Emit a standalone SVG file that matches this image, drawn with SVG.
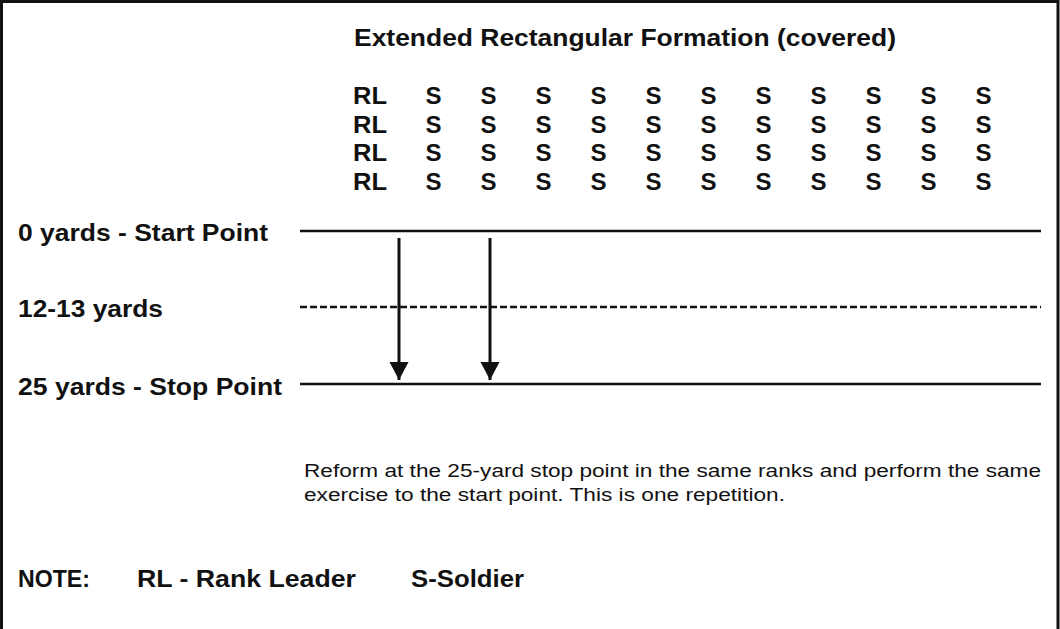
<svg xmlns="http://www.w3.org/2000/svg" width="1060" height="629" viewBox="0 0 1060 629">
<style>
.b{font-family:"Liberation Sans",Arial,sans-serif;font-weight:bold;font-size:24px;fill:#111}
.r{font-family:"Liberation Sans",Arial,sans-serif;font-size:17.5px;fill:#111}
.s{text-anchor:middle}
.ln{stroke:#111;stroke-width:2.5;fill:none}
.ar{stroke:#111;stroke-width:3;fill:none}
</style>
<defs>
<marker id="ah" markerUnits="userSpaceOnUse" markerWidth="20" markerHeight="20" viewBox="0 0 20 20" refX="18" refY="10" orient="auto">
<path d="M0,0.5 L18,10 L0,19.5 Z" fill="#111"/>
</marker>
</defs>
<rect x="0" y="0" width="1060" height="629" fill="#fff"/>
<rect x="1.5" y="1.5" width="1056.5" height="640" fill="none" stroke="#111" stroke-width="3"/>
<g id="title"><text class="b" x="354" y="46" textLength="542" lengthAdjust="spacingAndGlyphs">Extended Rectangular Formation (covered)</text></g>
<g id="formation">
<g id="row1">
<text class="b" x="353" y="104" textLength="34" lengthAdjust="spacingAndGlyphs">RL</text>
<text class="b s" x="433.5" y="104">S</text><text class="b s" x="488.5" y="104">S</text><text class="b s" x="543.5" y="104">S</text><text class="b s" x="598.5" y="104">S</text><text class="b s" x="653.5" y="104">S</text><text class="b s" x="708.5" y="104">S</text><text class="b s" x="763.5" y="104">S</text><text class="b s" x="818.5" y="104">S</text><text class="b s" x="873.5" y="104">S</text><text class="b s" x="928.5" y="104">S</text><text class="b s" x="983.5" y="104">S</text>
</g>
<g id="row2">
<text class="b" x="353" y="132.5" textLength="34" lengthAdjust="spacingAndGlyphs">RL</text>
<text class="b s" x="433.5" y="132.5">S</text><text class="b s" x="488.5" y="132.5">S</text><text class="b s" x="543.5" y="132.5">S</text><text class="b s" x="598.5" y="132.5">S</text><text class="b s" x="653.5" y="132.5">S</text><text class="b s" x="708.5" y="132.5">S</text><text class="b s" x="763.5" y="132.5">S</text><text class="b s" x="818.5" y="132.5">S</text><text class="b s" x="873.5" y="132.5">S</text><text class="b s" x="928.5" y="132.5">S</text><text class="b s" x="983.5" y="132.5">S</text>
</g>
<g id="row3">
<text class="b" x="353" y="161" textLength="34" lengthAdjust="spacingAndGlyphs">RL</text>
<text class="b s" x="433.5" y="161">S</text><text class="b s" x="488.5" y="161">S</text><text class="b s" x="543.5" y="161">S</text><text class="b s" x="598.5" y="161">S</text><text class="b s" x="653.5" y="161">S</text><text class="b s" x="708.5" y="161">S</text><text class="b s" x="763.5" y="161">S</text><text class="b s" x="818.5" y="161">S</text><text class="b s" x="873.5" y="161">S</text><text class="b s" x="928.5" y="161">S</text><text class="b s" x="983.5" y="161">S</text>
</g>
<g id="row4">
<text class="b" x="353" y="189.5" textLength="34" lengthAdjust="spacingAndGlyphs">RL</text>
<text class="b s" x="433.5" y="189.5">S</text><text class="b s" x="488.5" y="189.5">S</text><text class="b s" x="543.5" y="189.5">S</text><text class="b s" x="598.5" y="189.5">S</text><text class="b s" x="653.5" y="189.5">S</text><text class="b s" x="708.5" y="189.5">S</text><text class="b s" x="763.5" y="189.5">S</text><text class="b s" x="818.5" y="189.5">S</text><text class="b s" x="873.5" y="189.5">S</text><text class="b s" x="928.5" y="189.5">S</text><text class="b s" x="983.5" y="189.5">S</text>
</g>
</g>
<g id="start"><text class="b" x="18" y="241" textLength="250" lengthAdjust="spacingAndGlyphs">0 yards - Start Point</text>
<line class="ln" x1="300" y1="231" x2="1041" y2="231"/></g>
<g id="mid"><text class="b" x="18" y="317" textLength="145" lengthAdjust="spacingAndGlyphs">12-13 yards</text>
<line class="ln" x1="300" y1="307" x2="1041" y2="307" stroke-dasharray="7 3"/></g>
<g id="stop"><text class="b" x="18" y="395" textLength="264" lengthAdjust="spacingAndGlyphs">25 yards - Stop Point</text>
<line class="ln" x1="300" y1="384" x2="1041" y2="384"/></g>
<g id="connectors">
<line class="ar" x1="399" y1="238" x2="399" y2="380" marker-end="url(#ah)"/>
<line class="ar" x1="490" y1="238" x2="490" y2="380" marker-end="url(#ah)"/>
</g>
<g id="para">
<text class="r" x="304" y="477" textLength="737" lengthAdjust="spacingAndGlyphs">Reform at the 25-yard stop point in the same ranks and perform the same</text>
<text class="r" x="304" y="501" textLength="481" lengthAdjust="spacingAndGlyphs">exercise to the start point. This is one repetition.</text>
</g>
<g id="note">
<text class="b" x="18" y="587" textLength="72" lengthAdjust="spacingAndGlyphs">NOTE:</text>
<text class="b" x="137" y="587" textLength="219" lengthAdjust="spacingAndGlyphs">RL - Rank Leader</text>
<text class="b" x="411" y="587" textLength="113" lengthAdjust="spacingAndGlyphs">S-Soldier</text>
</g>
</svg>
